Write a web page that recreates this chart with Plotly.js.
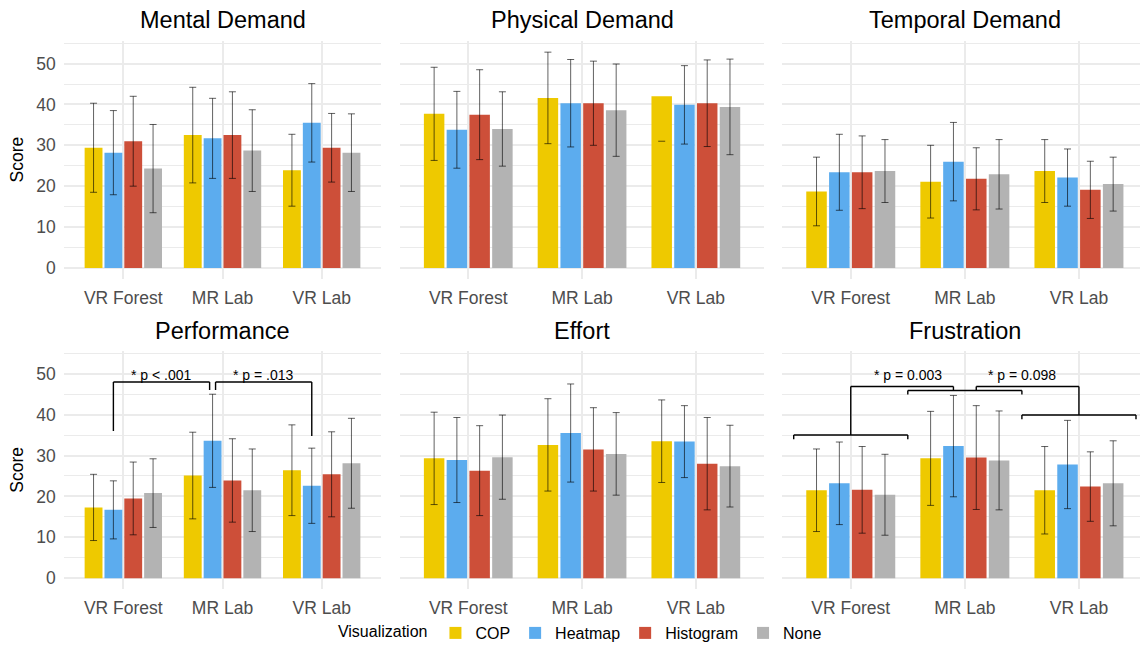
<!DOCTYPE html>
<html><head><meta charset="utf-8">
<script src="https://cdn.plot.ly/plotly-3.0.1.min.js"></script>
<style>html,body{margin:0;padding:0;background:#fff}#chart{width:1140px;height:650px}</style>
</head><body><div id="chart"></div>
<script>
// ---------------- data ----------------
const categories = ['VR Forest', 'MR Lab', 'VR Lab'];
const seriesNames = ['COP', 'Heatmap', 'Histogram', 'None'];
const seriesColors = ['#EEC900', '#5CACEE', '#CD4F39', '#B3B3B3'];
const panelTitles = ['Mental Demand', 'Physical Demand', 'Temporal Demand', 'Performance', 'Effort', 'Frustration'];
const yTicks = [0, 10, 20, 30, 40, 50];

// rows: COP, Heatmap, Histogram, None ; columns: VR Forest, MR Lab, VR Lab
const mentalMean = [[29.4, 32.5, 23.9], [28.2, 31.7, 35.5], [31.0, 32.5, 29.4], [24.3, 28.7, 28.2]];
const mentalSd   = [[10.9, 11.7, 8.8], [10.3, 9.8, 9.6], [11.0, 10.6, 8.4], [10.8, 10.0, 9.5]];
const physicalMean = [[37.7, 41.6, 42.0], [33.8, 40.3, 39.9], [37.5, 40.3, 40.3], [34.0, 38.6, 39.4]];
const physicalSd   = [[11.4, 11.2, 11.0], [9.4, 10.7, 9.6], [11.0, 10.3, 10.6], [9.1, 11.3, 11.7]];
const temporalMean = [[18.7, 21.1, 23.7], [23.4, 26.0, 22.1], [23.4, 21.8, 19.1], [23.7, 22.9, 20.5]];
const temporalSd   = [[8.4, 8.9, 7.7], [9.3, 9.6, 7.0], [8.9, 7.6, 7.0], [7.7, 8.5, 6.6]];
const performanceMean = [[17.3, 25.1, 26.4], [16.7, 33.6, 22.6], [19.5, 23.9, 25.4], [20.8, 21.5, 28.1]];
const performanceSd   = [[8.1, 10.6, 11.1], [7.1, 11.4, 9.2], [8.9, 10.2, 10.4], [8.4, 10.1, 11.0]];
const effortMean = [[29.3, 32.6, 33.5], [28.9, 35.5, 33.4], [26.3, 31.5, 28.0], [29.6, 30.4, 27.4]];
const effortSd   = [[11.3, 11.3, 10.1], [10.4, 12.0, 8.8], [11.0, 10.2, 11.3], [10.3, 10.1, 10.0]];
const frustrationMean = [[21.5, 29.3, 21.5], [23.2, 32.3, 27.8], [21.6, 29.5, 22.4], [20.4, 28.8, 23.2]];
const frustrationSd   = [[10.1, 11.5, 10.7], [10.1, 12.4, 10.8], [10.6, 12.7, 8.5], [9.9, 12.1, 10.4]];

// error bars drawn only as a lower cap (as in the source figure)
const lowerCapOnly = [['Physical Demand', 'COP', 'VR Lab']];

// significance comparisons
const performanceSigLabels = ['* p < .001', '* p = .013'];
const performanceSigPairs = [['VR Forest', 'MR Lab'], ['MR Lab', 'VR Lab']];
const performanceSigSeries = 'Heatmap';
const frustrationSigLabels = ['* p = 0.003', '* p = 0.098'];
const frustrationSigPairs = [['VR Forest', 'MR Lab'], ['MR Lab', 'VR Lab']];

// ---------------- layout geometry ----------------
const W = 1140, H = 650;
const colPx = [[63.8, 381.2], [400.0, 764.1], [782.3, 1147.4]];
const rowPx = [[40.7, 280.0], [352.3, 591.7]];
const yRange = [-2.65, 55.65];
const FONT = 'Liberation Sans, Arial, sans-serif';
const gridCol = '#EBEBEB';
const errCol = 'rgba(0,0,0,0.62)';
const capHalfPx = 3.5;

const means = [mentalMean, physicalMean, temporalMean, performanceMean, effortMean, frustrationMean];
const sds = [mentalSd, physicalSd, temporalSd, performanceSd, effortSd, frustrationSd];

const seriesOffset = si => -0.4 + 0.2 * (si + 0.5);
const catIdx = c => categories.indexOf(c);

const traces = [];
const shapes = [];
const annotations = [];
const layout = {
  width: W, height: H,
  margin: {l: 0, r: 0, t: 0, b: 0},
  paper_bgcolor: '#fff', plot_bgcolor: '#fff',
  font: {family: FONT, size: 17.5, color: '#4D4D4D'},
  barmode: 'group', bargap: 0.2, bargroupgap: 0.1,
  showlegend: true,
  legend: {
    orientation: 'h', x: 0.51, xanchor: 'center', y: 1 - 636 / H, yanchor: 'middle',
    font: {family: FONT, size: 16, color: '#000'},
    title: {text: 'Visualization', side: 'left', font: {family: FONT, size: 16, color: '#000'}},
    itemwidth: 30, tracegroupgap: 0
  },
  hovermode: false
};

panelTitles.forEach((title, pi) => {
  const col = pi % 3, row = Math.floor(pi / 3);
  const sfx = pi === 0 ? '' : String(pi + 1);
  const unitPx = (colPx[col][1] - colPx[col][0]) / 3.2;
  const rightPx = Math.min(colPx[col][1], W);
  const xr = [-0.6, -0.6 + (rightPx - colPx[col][0]) / unitPx];

  layout['xaxis' + sfx] = {
    domain: [colPx[col][0] / W, rightPx / W],
    anchor: 'y' + sfx,
    type: 'category', categoryorder: 'array', categoryarray: categories,
    range: xr, fixedrange: true,
    showgrid: true, gridcolor: gridCol, gridwidth: 2,
    zeroline: false, showline: false, ticks: '',
    tickfont: {family: FONT, size: 17.5, color: '#4D4D4D'},
    ticklabelstandoff: 7
  };
  layout['yaxis' + sfx] = {
    domain: [1 - rowPx[row][1] / H, 1 - rowPx[row][0] / H],
    anchor: 'x' + sfx,
    range: yRange, fixedrange: true,
    tickvals: yTicks, showticklabels: col === 0,
    showgrid: true, gridcolor: gridCol, gridwidth: 2,
    minor: {dtick: 5, tick0: 0, showgrid: true, gridcolor: gridCol, gridwidth: 1, ticks: ''},
    zeroline: false, showline: false, ticks: '',
    tickfont: {family: FONT, size: 17.5, color: '#4D4D4D'},
    ticklabelstandoff: 7,
    title: col === 0 ? {text: 'Score', font: {family: FONT, size: 17.5, color: '#000'}, standoff: 8} : {text: ''}
  };

  seriesNames.forEach((s, si) => {
    const errs = sds[pi][si].map((v, ci) =>
      lowerCapOnly.some(r => r[0] === title && r[1] === s && r[2] === categories[ci]) ? NaN : v);
    traces.push({
      type: 'bar', x: categories, y: means[pi][si], name: s, legendgroup: s,
      showlegend: pi === 0,
      marker: {color: seriesColors[si], line: {width: 0}},
      xaxis: 'x' + sfx, yaxis: 'y' + sfx,
      error_y: {type: 'data', array: errs, arrayminus: errs, visible: true,
                color: errCol, thickness: 1, width: capHalfPx}
    });
    sds[pi][si].forEach((v, ci) => {
      if (lowerCapOnly.some(r => r[0] === title && r[1] === s && r[2] === categories[ci])) {
        const xc = ci + seriesOffset(si), hw = capHalfPx / unitPx;
        shapes.push({type: 'line', xref: 'x' + sfx, yref: 'y' + sfx,
          x0: xc - hw, x1: xc + hw, y0: means[pi][si][ci] - v, y1: means[pi][si][ci] - v,
          line: {color: errCol, width: 1}});
      }
    });
  });

  // panel title
  annotations.push({
    text: title, xref: 'paper', yref: 'paper',
    x: (colPx[col][0] + colPx[col][1]) / 2 / W, y: 1 - (row === 0 ? 20.5 : 333) / H,
    xanchor: 'center', yanchor: 'middle', showarrow: false,
    font: {family: FONT, size: 23.5, color: '#000'}
  });
});

// ---------------- significance brackets ----------------
const brLine = {color: '#000', width: 1.4};
function seg(ax, x0, y0, x1, y1) {
  shapes.push({type: 'line', xref: 'x' + ax, yref: 'y' + ax, x0, y0, x1, y1, line: brLine});
}
function sigText(ax, x, y, t) {
  annotations.push({text: t, xref: 'x' + ax, yref: 'y' + ax, x, y, showarrow: false,
    xanchor: 'center', yanchor: 'middle', font: {family: FONT, size: 14, color: '#000'}});
}
// Performance (panel 4): bar-to-bar brackets on the Heatmap bars
{
  const ax = '4', top = 48, labelY = 49.8, inset = 0.03;
  const legBottoms = [[36.0, 46.0], [46.0, 34.8]];
  const off = seriesOffset(seriesNames.indexOf(performanceSigSeries));
  performanceSigPairs.forEach((pair, k) => {
    let x0 = catIdx(pair[0]) + off, x1 = catIdx(pair[1]) + off;
    if (k === 0) x1 -= inset; else x0 += inset;
    seg(ax, x0, legBottoms[k][0], x0, top);
    seg(ax, x0, top, x1, top);
    seg(ax, x1, top, x1, legBottoms[k][1]);
    sigText(ax, (x0 + x1) / 2, labelY, performanceSigLabels[k]);
  });
}
// Frustration (panel 6): group brackets joined by comparison brackets
{
  const ax = '6', groupLevels = [35.0, 45.9, 39.9], tip = 1.0, top = 46.9, labelY = 49.8, inset = 0.1;
  categories.forEach((c, ci) => {
    const y = groupLevels[ci];
    seg(ax, ci - 0.5, y - tip, ci - 0.5, y);
    seg(ax, ci - 0.5, y, ci + 0.5, y);
    seg(ax, ci + 0.5, y, ci + 0.5, y - tip);
  });
  frustrationSigPairs.forEach((pair, k) => {
    const a = catIdx(pair[0]), b = catIdx(pair[1]);
    let x0 = a, x1 = b;
    if (k === 0) x1 -= inset; else x0 += inset;
    seg(ax, x0, groupLevels[a], x0, top);
    seg(ax, x0, top, x1, top);
    seg(ax, x1, top, x1, groupLevels[b]);
    sigText(ax, (a + b) / 2, labelY, frustrationSigLabels[k]);
  });
}

layout.shapes = shapes;
layout.annotations = annotations;
Plotly.newPlot('chart', traces, layout, {staticPlot: true, displayModeBar: false});
</script>
</body></html>
